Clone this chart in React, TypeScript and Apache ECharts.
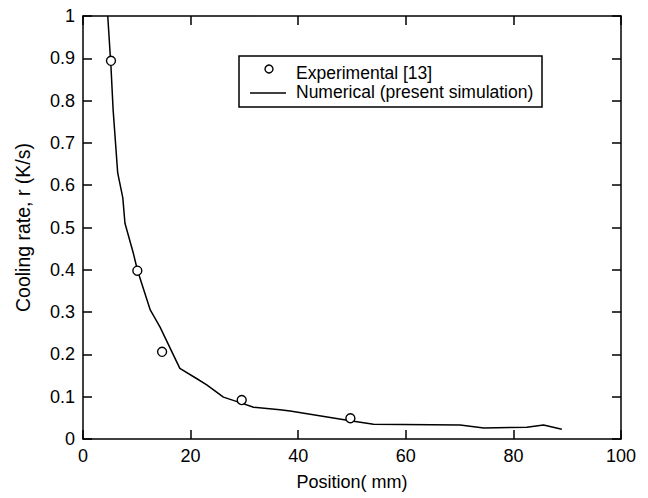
import React, { useEffect, useRef } from "react";
import * as echarts from "echarts";

const expX = [5.2, 10.1, 14.7, 29.5, 49.7];
const expY = [0.894, 0.398, 0.206, 0.092, 0.049];

const numX = [4.6, 5.2, 5.6, 6.45, 7.4, 7.8, 9.36, 10.1, 10.9, 12.5, 14.3, 18.0, 21.1, 23.0, 26.1, 29.2, 31.7, 36.6, 38.5, 49.7, 54, 70.1, 74.5, 82.5, 85.6, 89];
const numY = [1.0, 0.88, 0.778, 0.629, 0.57, 0.51, 0.439, 0.40, 0.368, 0.305, 0.265, 0.167, 0.143, 0.128, 0.099, 0.086, 0.075, 0.069, 0.066, 0.043, 0.035, 0.033, 0.026, 0.028, 0.033, 0.023];

const xTicks = [0, 20, 40, 60, 80, 100];
const yTicks = [0, 0.1, 0.2, 0.3, 0.4, 0.5, 0.6, 0.7, 0.8, 0.9, 1];

const seriesNames = ["Experimental [13]", "Numerical (present simulation)"];

const FONT = "Liberation Sans";

function axisLine() {
  return { show: true, onZero: false, lineStyle: { color: "#000", width: 1.5 } };
}
function axisTick() {
  return { show: true, inside: true, length: 9, lineStyle: { color: "#000", width: 1.5 } };
}

export default function App() {
  const ref = useRef<HTMLDivElement>(null);
  useEffect(() => {
    const chart = echarts.init(ref.current!, null, { renderer: "svg" });
    chart.setOption({
      animation: false,
      backgroundColor: "#fff",
      textStyle: { fontFamily: FONT },
      grid: { left: 83, right: 27, top: 16, bottom: 59 },
      xAxis: [
        {
          type: "value",
          position: "bottom",
          min: xTicks[0],
          max: xTicks[xTicks.length - 1],
          interval: 20,
          name: "Position( mm)",
          nameLocation: "middle",
          nameGap: 34,
          nameTextStyle: { color: "#000", fontSize: 18, fontFamily: FONT },
          axisLabel: { color: "#000", fontSize: 18, fontFamily: FONT, margin: 8 },
          axisLine: axisLine(),
          axisTick: axisTick(),
          splitLine: { show: false },
        },
        {
          type: "value",
          position: "top",
          min: xTicks[0],
          max: xTicks[xTicks.length - 1],
          interval: 20,
          axisLabel: { show: false },
          axisLine: axisLine(),
          axisTick: axisTick(),
          splitLine: { show: false },
        },
      ],
      yAxis: [
        {
          type: "value",
          position: "left",
          min: yTicks[0],
          max: yTicks[yTicks.length - 1],
          interval: 0.1,
          name: "Cooling rate, r (K/s)",
          nameLocation: "middle",
          nameGap: 50,
          nameTextStyle: { color: "#000", fontSize: 19.5, fontFamily: FONT },
          axisLabel: {
            color: "#000",
            fontSize: 18,
            fontFamily: FONT,
            margin: 8,
            formatter: (v: number) => String(Math.round(v * 10) / 10),
          },
          axisLine: axisLine(),
          axisTick: axisTick(),
          splitLine: { show: false },
        },
        {
          type: "value",
          position: "right",
          min: yTicks[0],
          max: yTicks[yTicks.length - 1],
          interval: 0.1,
          axisLabel: { show: false },
          axisLine: axisLine(),
          axisTick: axisTick(),
          splitLine: { show: false },
        },
      ],
      series: [
        {
          name: seriesNames[1],
          type: "line",
          xAxisIndex: 0,
          yAxisIndex: 0,
          data: numX.map((x, i) => [x, numY[i]]),
          showSymbol: false,
          symbol: "none",
          lineStyle: { color: "#000", width: 1.5 },
          clip: true,
          z: 2,
        },
        {
          name: seriesNames[0],
          type: "scatter",
          xAxisIndex: 0,
          yAxisIndex: 0,
          data: expX.map((x, i) => [x, expY[i]]),
          symbol: "circle",
          symbolSize: 9,
          itemStyle: { color: "#fff", borderColor: "#000", borderWidth: 1.4, opacity: 1 },
          z: 3,
        },
      ],
      graphic: [
        {
          type: "rect",
          shape: { x: 239, y: 56, width: 303, height: 51 },
          style: { fill: "#fff", stroke: "#000", lineWidth: 1.5 },
          z: 10,
        },
        {
          type: "circle",
          shape: { cx: 269, cy: 69, r: 4 },
          style: { fill: "#fff", stroke: "#000", lineWidth: 1.4 },
          z: 11,
        },
        {
          type: "line",
          shape: { x1: 250, y1: 93, x2: 286, y2: 93 },
          style: { stroke: "#000", lineWidth: 1.5 },
          z: 11,
        },
        {
          type: "text",
          x: 296,
          y: 73,
          style: { text: seriesNames[0], fill: "#000", font: `17.5px ${FONT}`, textVerticalAlign: "middle" },
          z: 11,
        },
        {
          type: "text",
          x: 296,
          y: 92,
          style: { text: seriesNames[1], fill: "#000", font: `17.5px ${FONT}`, textVerticalAlign: "middle" },
          z: 11,
        },
      ],
    });
    return () => chart.dispose();
  }, []);
  return <div ref={ref} style={{ width: 648, height: 498, position: "absolute", left: 0, top: 0 }} />;
}
